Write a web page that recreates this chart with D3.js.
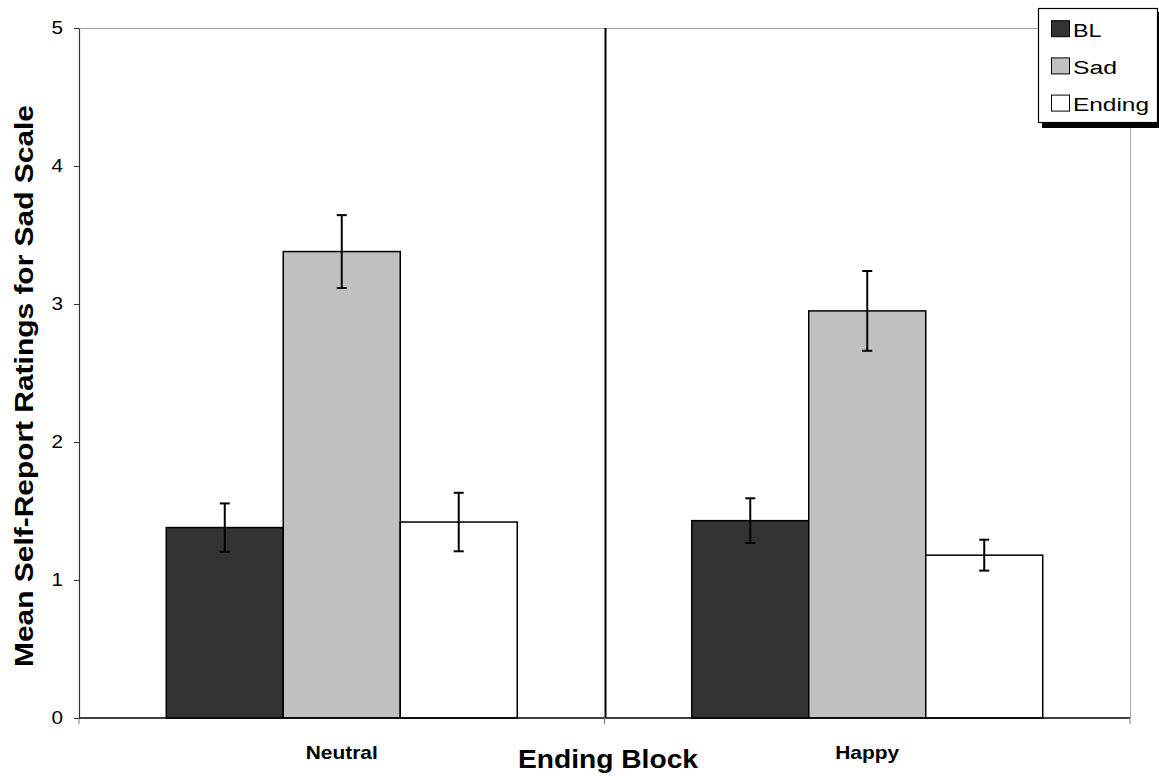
<!DOCTYPE html>
<html>
<head>
<meta charset="utf-8">
<script src="https://cdn.jsdelivr.net/npm/d3@7"></script>
<style>
  html, body { margin: 0; padding: 0; background: #fff; }
  svg { display: block; font-family: "Liberation Sans", Arial, sans-serif; }
</style>
</head>
<body>
<svg id="chart" width="1159" height="780"></svg>
<script>
// ---- data ----
const categories = ["Neutral", "Happy"];
const seriesNames = ["BL", "Sad", "Ending"];
const blValues = [1.38, 1.43];
const sadValues = [3.38, 2.95];
const endingValues = [1.42, 1.18];
const blErrors = [0.175, 0.162];
const sadErrors = [0.264, 0.289];
const endingErrors = [0.212, 0.112];
const yTicks = [0, 1, 2, 3, 4, 5];
const xTitle = "Ending Block";
const yTitle = "Mean Self-Report Ratings for Sad Scale";

// ---- layout ----
const svg = d3.select("#chart");
const plot = { left: 79, right: 1130, top: 28, bottom: 718 };
const colors = { BL: "#333333", Sad: "#c0c0c0", Ending: "#ffffff" };
const seriesValues = { BL: blValues, Sad: sadValues, Ending: endingValues };
const seriesErrors = { BL: blErrors, Sad: sadErrors, Ending: endingErrors };

const x = d3.scaleBand().domain(categories).range([plot.left, plot.right]).paddingInner(0).paddingOuter(0);
const xs = d3.scaleBand().domain(seriesNames).range([0, x.bandwidth()]).paddingInner(0).paddingOuter(0.746);
const y = d3.scaleLinear().domain([0, 5]).range([plot.bottom, plot.top]);

// plot frame (top and right, gray)
svg.append("line").attr("x1", plot.left).attr("x2", plot.right).attr("y1", plot.top + 0.5).attr("y2", plot.top + 0.5)
  .attr("stroke", "#a6a6a6").attr("stroke-width", 1);
svg.append("line").attr("x1", plot.right + 0.5).attr("x2", plot.right + 0.5).attr("y1", plot.top).attr("y2", plot.bottom)
  .attr("stroke", "#a6a6a6").attr("stroke-width", 1);

// divider between categories
const divX = x("Happy") + 1;
svg.append("line").attr("x1", divX).attr("x2", divX).attr("y1", plot.top).attr("y2", plot.bottom - 1)
  .attr("stroke", "#000").attr("stroke-width", 2);

// bars
const g = svg.append("g");
categories.forEach((cat, ci) => {
  seriesNames.forEach(s => {
    const v = seriesValues[s][ci];
    g.append("rect")
      .attr("x", x(cat) + xs(s))
      .attr("y", y(v))
      .attr("width", xs.bandwidth())
      .attr("height", y(0) - y(v))
      .attr("fill", colors[s])
      .attr("stroke", "#000")
      .attr("stroke-width", 1.5);
  });
});

// error bars
categories.forEach((cat, ci) => {
  seriesNames.forEach(s => {
    const v = seriesValues[s][ci], e = seriesErrors[s][ci];
    const cx = x(cat) + xs(s) + xs.bandwidth() / 2;
    const eg = g.append("g").attr("stroke", "#000").attr("stroke-width", 2);
    eg.append("line").attr("x1", cx).attr("x2", cx).attr("y1", y(v + e)).attr("y2", y(v - e));
    eg.append("line").attr("x1", cx - 5).attr("x2", cx + 5).attr("y1", y(v + e)).attr("y2", y(v + e));
    eg.append("line").attr("x1", cx - 5).attr("x2", cx + 5).attr("y1", y(v - e)).attr("y2", y(v - e));
  });
});

// y axis
const yAxis = svg.append("g").attr("transform", `translate(${plot.left},0)`)
  .call(d3.axisLeft(y).tickValues(yTicks).tickFormat(d3.format("d")).tickSizeInner(5).tickSizeOuter(0).tickPadding(11));
yAxis.select(".domain").attr("stroke", "#333").attr("stroke-width", 1.2);
yAxis.selectAll(".tick line").attr("stroke", "#333");
yAxis.selectAll(".tick text").attr("font-size", 17.5).attr("fill", "#000")
  .attr("font-family", "Liberation Sans, Arial, sans-serif")
  .attr("textLength", 11.5).attr("lengthAdjust", "spacingAndGlyphs");

// x axis
const xAxisG = svg.append("g").attr("transform", `translate(0,${plot.bottom})`);
xAxisG.append("line").attr("x1", plot.left).attr("x2", plot.right).attr("y1", 0).attr("y2", 0)
  .attr("stroke", "#000").attr("stroke-width", 1.5);
const boundaries = categories.map(c => x(c)).concat([x(categories[categories.length - 1]) + x.bandwidth()]);
xAxisG.selectAll("line.xt").data(boundaries).enter().append("line").attr("class", "xt")
  .attr("x1", d => d).attr("x2", d => d).attr("y1", 0).attr("y2", 6)
  .attr("stroke", "#777").attr("stroke-width", 1);

// category labels
const catLen = { Neutral: 72, Happy: 64 };
svg.selectAll("text.cat").data(categories).enter().append("text").attr("class", "cat")
  .attr("x", d => x(d) + x.bandwidth() / 2)
  .attr("y", 759)
  .attr("text-anchor", "middle")
  .attr("font-size", 18.5).attr("font-weight", "bold")
  .attr("textLength", d => catLen[d]).attr("lengthAdjust", "spacingAndGlyphs")
  .text(d => d);

// axis titles
svg.append("text").attr("x", 608).attr("y", 768).attr("text-anchor", "middle")
  .attr("font-size", 26).attr("font-weight", "bold")
  .attr("textLength", 180).attr("lengthAdjust", "spacingAndGlyphs")
  .text(xTitle);
svg.append("text").attr("transform", `translate(33,386) rotate(-90)`).attr("text-anchor", "middle")
  .attr("font-size", 26.5).attr("font-weight", "bold")
  .attr("textLength", 562).attr("lengthAdjust", "spacingAndGlyphs")
  .text(yTitle);

// legend
const lg = svg.append("g");
lg.append("rect").attr("x", 1042).attr("y", 12).attr("width", 120).attr("height", 116).attr("fill", "#000");
lg.append("rect").attr("x", 1038.5).attr("y", 8.5).attr("width", 119).attr("height", 114)
  .attr("fill", "#fff").attr("stroke", "#000").attr("stroke-width", 1.2);
const legLen = { BL: 28.5, Sad: 44, Ending: 76 };
seriesNames.forEach((s, i) => {
  const ry = 28.7 + i * 37.2;
  lg.append("rect").attr("x", 1051.5).attr("y", ry - 8).attr("width", 18).attr("height", 16)
    .attr("fill", colors[s]).attr("stroke", "#000").attr("stroke-width", 1);
  lg.append("text").attr("x", 1073).attr("y", ry + 8).attr("font-size", 18)
    .attr("textLength", legLen[s]).attr("lengthAdjust", "spacingAndGlyphs")
    .text(s);
});
</script>
</body>
</html>
